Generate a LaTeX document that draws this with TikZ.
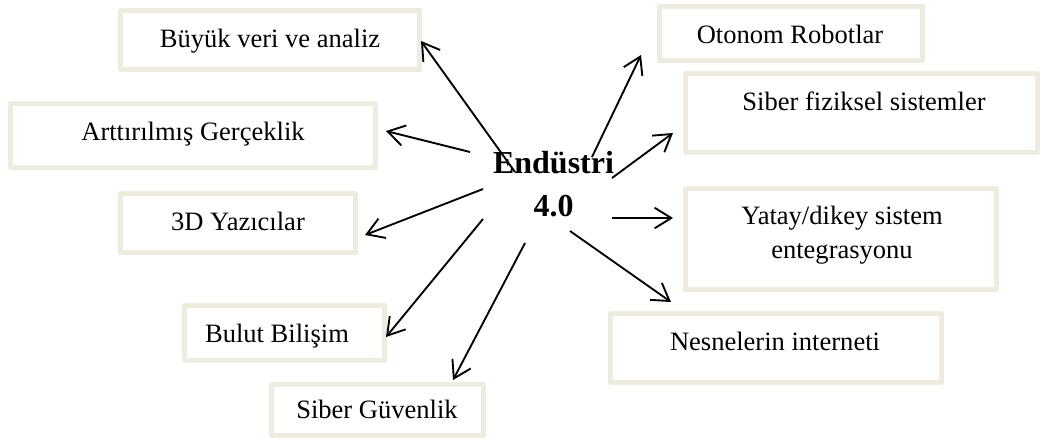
\documentclass[tikz,border=0pt]{standalone}
\usepackage{fontspec}
\setmainfont{Liberation Serif}
\usetikzlibrary{arrows.meta}
\definecolor{boxline}{RGB}{238,236,225}
\tikzset{
  box/.style={draw=boxline, line width=3.75pt, fill=white, inner sep=0pt, outer sep=0pt, line join=round},
  lbl/.style={inner sep=0pt, outer sep=0pt, anchor=base, font=\fontsize{19.9pt}{25.5pt}\selectfont, text=black},
  hub/.style={inner sep=0pt, outer sep=0pt, anchor=base, font=\fontsize{24pt}{32.25pt}\selectfont\bfseries, text=black},
  arr/.style={line width=1.4pt, -{Straight Barb[length=12.5pt,width=15.5pt,line width=1.4pt]}}
}
\begin{document}
\begin{tikzpicture}[x=0.75pt,y=-0.75pt]
\useasboundingbox (0,0) rectangle (1041,444);
% boxes
\node[box, minimum width=224.25pt, minimum height=44.25pt] (b1) at (270,40) {};
\node[box, minimum width=197.25pt, minimum height=40.5pt] (b2) at (791,33.5) {};
\node[box, minimum width=264pt, minimum height=59.25pt] (b3) at (861.5,113) {};
\node[box, minimum width=233.25pt, minimum height=75.75pt] (b4) at (841,239) {};
\node[box, minimum width=248.25pt, minimum height=51.75pt] (b5) at (776,348) {};
\node[box, minimum width=273.75pt, minimum height=48pt] (b6) at (193,135.5) {};
\node[box, minimum width=176.25pt, minimum height=44.25pt] (b7) at (238,223) {};
\node[box, minimum width=150pt, minimum height=41.25pt] (b8) at (284.5,333) {};
\node[box, minimum width=159pt, minimum height=38.25pt] (b9) at (377.5,410) {};
% labels
\node[lbl] (l1) at (270,47) {Büyük veri ve analiz};
\node[lbl] (l2) at (790,43) {Otonom Robotlar};
\node[lbl] (l3) at (864,110) {Siber fiziksel sistemler};
\node[lbl] (l4a) at (842,224) {Yatay/dikey sistem};
\node[lbl] (l4b) at (842,258) {entegrasyonu};
\node[lbl] (l5) at (775,350) {Nesnelerin interneti};
\node[lbl] (l6) at (193,140) {Arttırılmış Gerçeklik};
\node[lbl] (l7) at (238,230) {3D Yazıcılar};
\node[lbl] (l8) at (277,342) {Bulut Bilişim};
\node[lbl] (l9) at (377,418) {Siber Güvenlik};
% hub
\node[hub] (h1) at (553.5,173) {Endüstri};
\node[hub] (h2) at (553.5,216) {4.0};
% arrow ends
\coordinate (t1) at (515,172); \coordinate (e1) at (421,41);
\coordinate (t2) at (592,157); \coordinate (e2) at (641,55);
\coordinate (t3) at (612,178); \coordinate (e3) at (673,133);
\coordinate (t4) at (612,218); \coordinate (e4) at (673,218);
\coordinate (t5) at (570,231); \coordinate (e5) at (671,302);
\coordinate (t6) at (470,152); \coordinate (e6) at (386,131);
\coordinate (t7) at (483,189); \coordinate (e7) at (365,235);
\coordinate (t8) at (483,219); \coordinate (e8) at (386,337);
\coordinate (t9) at (525,243); \coordinate (e9) at (453,380);
\foreach \i in {1,...,9}{\draw[arr] (t\i) -- (e\i);}
\end{tikzpicture}
\end{document}
